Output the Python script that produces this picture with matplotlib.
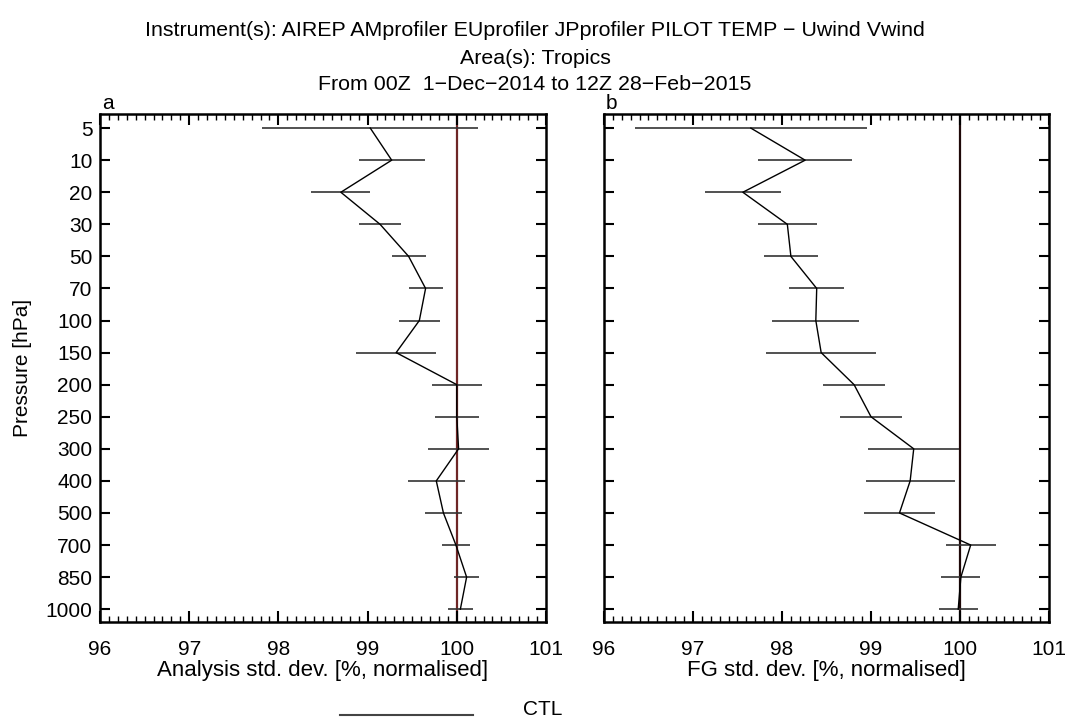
import matplotlib
matplotlib.use("Agg")
import matplotlib.pyplot as plt
from matplotlib.lines import Line2D
import numpy as np

plt.rcParams['font.family'] = ['Liberation Sans', 'DejaVu Sans']

levels = ['5', '10', '20', '30', '50', '70', '100', '150', '200', '250',
          '300', '400', '500', '700', '850', '1000']
an_mean = [99.03, 99.27, 98.70, 99.14, 99.46, 99.65, 99.58, 99.32, 100.00, 100.00,
           100.02, 99.77, 99.85, 99.99, 100.11, 100.04]
an_err = [1.21, 0.37, 0.33, 0.24, 0.19, 0.19, 0.23, 0.45, 0.28, 0.25,
          0.34, 0.32, 0.21, 0.16, 0.14, 0.14]
fg_mean = [97.65, 98.26, 97.56, 98.06, 98.10, 98.39, 98.38, 98.44, 98.81, 99.00,
           99.48, 99.44, 99.32, 100.12, 100.01, 99.98]
fg_err = [1.30, 0.53, 0.43, 0.33, 0.30, 0.31, 0.49, 0.62, 0.35, 0.35,
          0.51, 0.50, 0.40, 0.28, 0.22, 0.22]
ctl_value = 100.0
xticks = [96, 97, 98, 99, 100, 101]

title_lines = ["Instrument(s): AIREP AMprofiler EUprofiler JPprofiler PILOT TEMP \u2212 Uwind Vwind",
               "Area(s): Tropics",
               "From 00Z  1\u2212Dec\u22122014 to 12Z 28\u2212Feb\u22122015"]

W, H = 1069, 718
fig = plt.figure(figsize=(W / 100, H / 100), dpi=100)

def ax_rect(x0, y0, x1, y1):
    return [x0 / W, 1 - y1 / H, (x1 - x0) / W, (y1 - y0) / H]

axL = fig.add_axes(ax_rect(100, 114, 546, 622))
axR = fig.add_axes(ax_rect(604, 114, 1049, 622))

y = np.arange(len(levels))
FS = 15

panels = [(axL, an_mean, an_err, "Analysis std. dev. [%, normalised]", 'a', '#6e2626'),
          (axR, fg_mean, fg_err, "FG std. dev. [%, normalised]", 'b', '#1e0808')]

for ax, m, e, xl, lab, ccol in panels:
    ax.axvline(ctl_value, color=ccol, lw=1.6, zorder=1)
    ax.errorbar(m, y, xerr=e, fmt='none', ecolor='#333333', elinewidth=1.2, capsize=0, zorder=2)
    ax.plot(m, y, color='black', lw=1.0, zorder=3)
    ax.set_xlim(96, 101)
    ax.set_ylim(15.4, -0.44)
    ax.set_yticks(y)
    ax.set_xticks(xticks)
    ax.set_xticklabels([str(t) for t in xticks], fontsize=FS)
    ax.set_xticks(np.arange(96, 101.001, 0.1), minor=True)
    ax.tick_params(axis='x', which='major', direction='in', length=8, width=1.5,
                   top=True, bottom=True, pad=13)
    ax.tick_params(axis='x', which='minor', direction='in', length=4, width=1.0,
                   top=True, bottom=True)
    ax.tick_params(axis='y', which='major', direction='in', length=7, width=1.5,
                   left=True, right=True, pad=5.5)
    for s in ax.spines.values():
        s.set_linewidth(1.8)
    ax.set_xlabel(xl, fontsize=16, labelpad=1)
    ax.text(0.004, 1.01, lab, transform=ax.transAxes, fontsize=FS, ha='left', va='baseline')

axL.set_yticklabels(levels, fontsize=FS)
axL.set_ylabel("Pressure [hPa]", fontsize=FS, labelpad=10)
axR.set_yticklabels([])

for txt, yy in zip(title_lines, [31, 58, 85]):
    fig.text(535 / W, 1 - yy / H, txt, ha='center', va='center', fontsize=15.4)

fig.add_artist(Line2D([340 / W, 473 / W], [1 - 715 / H, 1 - 715 / H], color='#444444', lw=1.5))
fig.text(523 / W, 1 - 715 / H, "CTL", ha='left', va='baseline', fontsize=FS)

fig.savefig("out.png", dpi=100)
